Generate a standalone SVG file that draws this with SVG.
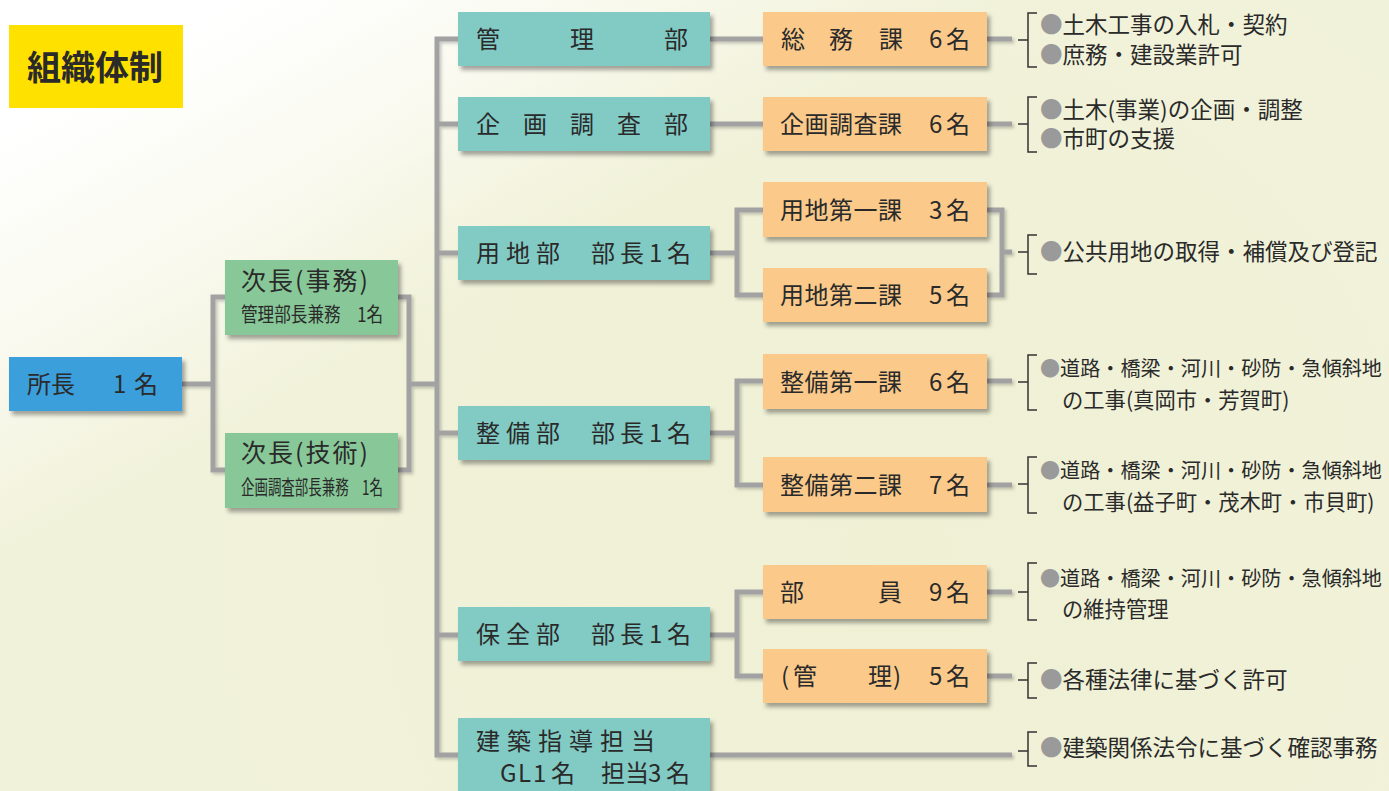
<svg xmlns="http://www.w3.org/2000/svg" width="1389" height="791" viewBox="0 0 1389 791">
<defs>
<linearGradient id="bg" x1="110" y1="70" x2="290" y2="400" gradientUnits="userSpaceOnUse">
<stop offset="0" stop-color="#ffffff"/>
<stop offset="0.55" stop-color="#f9f9ee"/>
<stop offset="1" stop-color="#f1f2da"/>
</linearGradient>
<radialGradient id="bg2" cx="900" cy="560" r="700" gradientUnits="userSpaceOnUse">
<stop offset="0" stop-color="#eef0d2" stop-opacity="0.7"/>
<stop offset="1" stop-color="#eef0d2" stop-opacity="0"/>
</radialGradient>
<filter id="sh" x="-10%" y="-20%" width="125%" height="160%">
<feDropShadow dx="3" dy="4" stdDeviation="2.2" flood-color="#000" flood-opacity="0.35"/>
</filter>
<filter id="lsh" x="-5%" y="-5%" width="110%" height="110%">
<feDropShadow dx="2" dy="2" stdDeviation="1.5" flood-color="#000" flood-opacity="0.2"/>
</filter>
<style>
.t{font-family:'Noto Sans CJK JP','Noto Sans CJK SC',sans-serif;fill:#2a2a2a}
.f24{font-size:24px}
.d{font-size:22.5px}
.dn{font-size:21.3px}
.ds{font-size:20.5px}
.b{fill:#9a9a9a}
.dept{fill:#82cbc5}
.sec{fill:#fbca8b}
.vice{fill:#88c898}
.ln{stroke:#a2a2a2;stroke-width:5;fill:none;stroke-linejoin:miter}
.brk{stroke:#333;stroke-width:1.5;fill:none}
</style>
</defs>
<rect width="1389" height="791" fill="url(#bg)"/>
<rect width="1389" height="791" fill="url(#bg2)"/>

<g id="title">
<rect x="9" y="25" width="174" height="83" fill="#ffe100"/>
<text class="t" x="27" y="80" font-size="34" font-weight="700" fill="#231815">組織体制</text>
</g>

<g id="connectors" filter="url(#lsh)">
<path class="ln" d="M182,384 H213"/>
<path class="ln" d="M225,297 H213 V470 H225"/>
<path class="ln" d="M398,297 H409 V470 H398"/>
<path class="ln" d="M409,384 H437"/>
<path class="ln" d="M458,39 H437 V755 H458"/>
<path class="ln" d="M437,124 H458 M437,253 H458 M437,433 H458 M437,635 H458"/>
<path class="ln" d="M710,39 H763 M710,124 H763"/>
<path class="ln" d="M710,253 H737 M763,210 H737 V295 H763"/>
<path class="ln" d="M710,433 H737 M763,381 H737 V485 H763"/>
<path class="ln" d="M710,635 H737 M763,592 H737 V676 H763"/>
<path class="ln" d="M710,755 H1012"/>
<path class="ln" d="M987,39 H1012 M987,124 H1012"/>
<path class="ln" d="M987,210 H1002 V295 H987 M1002,252 H1012"/>
<path class="ln" d="M987,381 H1012 M987,485 H1012 M987,592 H1012 M987,676 H1012"/>
</g>

<g id="brackets">
<path class="brk" d="M1018,40 H1028 M1037,13 H1028 V67 H1037"/>
<path class="brk" d="M1018,124 H1028 M1037,97 H1028 V152 H1037"/>
<path class="brk" d="M1018,252 H1028 M1037,235 H1028 V274 H1037"/>
<path class="brk" d="M1018,382 H1028 M1037,355 H1028 V410 H1037"/>
<path class="brk" d="M1018,484 H1028 M1037,457 H1028 V513 H1037"/>
<path class="brk" d="M1018,592 H1028 M1037,563 H1028 V620 H1037"/>
<path class="brk" d="M1018,680 H1028 M1037,663 H1028 V698 H1037"/>
<path class="brk" d="M1018,751 H1028 M1037,732 H1028 V766 H1037"/>
</g>

<g id="shocho">
<rect x="9" y="357" width="173" height="54" fill="#3a9fdc" filter="url(#sh)"/>
<text class="t f24" y="393" font-size="25"><tspan x="27">所長</tspan><tspan x="113">1</tspan><tspan x="134">名</tspan></text>
</g>

<g id="jicho-jimu">
<rect class="vice" x="225" y="260" width="173" height="75" filter="url(#sh)"/>
<text class="t" x="241" y="290" font-size="25" letter-spacing="2">次長(事務)</text>
<text class="t" x="241" y="322" font-size="20" textLength="142" lengthAdjust="spacingAndGlyphs">管理部長兼務　1名</text>
</g>

<g id="jicho-gijutsu">
<rect class="vice" x="225" y="433" width="173" height="75" filter="url(#sh)"/>
<text class="t" x="241" y="462" font-size="25" letter-spacing="2">次長(技術)</text>
<text class="t" x="241" y="495" font-size="20" textLength="142" lengthAdjust="spacingAndGlyphs">企画調査部長兼務　1名</text>
</g>

<g id="kanri-bu">
<rect class="dept" x="458" y="12" width="252" height="54" filter="url(#sh)"/>
<text class="t f24" x="476 570 664" y="48">管理部</text>
</g>
<g id="kikaku-bu">
<rect class="dept" x="458" y="97" width="252" height="54" filter="url(#sh)"/>
<text class="t f24" x="476 523 570 617 664" y="133">企画調査部</text>
</g>
<g id="youchi-bu">
<rect class="dept" x="458" y="226" width="252" height="54" filter="url(#sh)"/>
<text class="t f24" x="476 506 536" y="262">用地部</text>
<text class="t f24" x="591 620 649 667" y="262">部長1名</text>
</g>
<g id="seibi-bu">
<rect class="dept" x="458" y="406" width="252" height="54" filter="url(#sh)"/>
<text class="t f24" x="476 506 536" y="442">整備部</text>
<text class="t f24" x="591 620 649 667" y="442">部長1名</text>
</g>
<g id="hozen-bu">
<rect class="dept" x="458" y="607" width="252" height="54" filter="url(#sh)"/>
<text class="t f24" x="476 506 536" y="643">保全部</text>
<text class="t f24" x="591 620 649 667" y="643">部長1名</text>
</g>
<g id="kenchiku">
<rect class="dept" x="458" y="718" width="252" height="80" filter="url(#sh)"/>
<text class="t f24" x="476 507 538 569 600 631" y="750">建築指導担当</text>
<text class="t f24" x="500 518 533 551 576 601 625 648 666" y="782">GL1名　担当3名</text>
</g>

<g id="somu-ka">
<rect class="sec" x="763" y="12" width="224" height="54" filter="url(#sh)"/>
<text class="t f24" x="781 829 879 929 946" y="48">総務課6名</text>
</g>
<g id="kikaku-ka">
<rect class="sec" x="763" y="97" width="224" height="54" filter="url(#sh)"/>
<text class="t f24" x="780 804.5 829 853.5 878 929 946" y="133">企画調査課6名</text>
</g>
<g id="youchi1-ka">
<rect class="sec" x="763" y="182" width="224" height="55" filter="url(#sh)"/>
<text class="t f24" x="780 804.5 829 853.5 878 929 946" y="219">用地第一課3名</text>
</g>
<g id="youchi2-ka">
<rect class="sec" x="763" y="268" width="224" height="54" filter="url(#sh)"/>
<text class="t f24" x="780 804.5 829 853.5 878 929 946" y="304">用地第二課5名</text>
</g>
<g id="seibi1-ka">
<rect class="sec" x="763" y="354" width="224" height="55" filter="url(#sh)"/>
<text class="t f24" x="780 804.5 829 853.5 878 929 946" y="391">整備第一課6名</text>
</g>
<g id="seibi2-ka">
<rect class="sec" x="763" y="457" width="224" height="55" filter="url(#sh)"/>
<text class="t f24" x="780 804.5 829 853.5 878 929 946" y="494">整備第二課7名</text>
</g>
<g id="buin">
<rect class="sec" x="763" y="565" width="224" height="54" filter="url(#sh)"/>
<text class="t f24" x="780 878 929 946" y="601">部員9名</text>
</g>
<g id="kanri-han">
<rect class="sec" x="763" y="649" width="224" height="54" filter="url(#sh)"/>
<text class="t f24" x="781 793 868 893 929 946" y="685">(管理)5名</text>
</g>

<g id="desc-somu">
<text class="t d" x="1040" y="33"><tspan class="b">●</tspan>土木工事の入札・契約</text>
<text class="t d" x="1040" y="63"><tspan class="b">●</tspan>庶務・建設業許可</text>
</g>
<g id="desc-kikaku">
<text class="t d" x="1040" y="118"><tspan class="b">●</tspan>土木(事業)の企画・調整</text>
<text class="t d" x="1040" y="147"><tspan class="b">●</tspan>市町の支援</text>
</g>
<g id="desc-youchi">
<text class="t d" x="1040" y="260"><tspan class="b">●</tspan>公共用地の取得・補償及び登記</text>
</g>
<g id="desc-seibi1">
<text class="t ds" x="1040" y="376" textLength="342" lengthAdjust="spacingAndGlyphs"><tspan class="b">●</tspan>道路・橋梁・河川・砂防・急傾斜地</text>
<text class="t dn" x="1062" y="408">の工事(真岡市・芳賀町)</text>
</g>
<g id="desc-seibi2">
<text class="t ds" x="1040" y="478" textLength="342" lengthAdjust="spacingAndGlyphs"><tspan class="b">●</tspan>道路・橋梁・河川・砂防・急傾斜地</text>
<text class="t dn" x="1062" y="510">の工事(益子町・茂木町・市貝町)</text>
</g>
<g id="desc-buin">
<text class="t ds" x="1040" y="586" textLength="342" lengthAdjust="spacingAndGlyphs"><tspan class="b">●</tspan>道路・橋梁・河川・砂防・急傾斜地</text>
<text class="t dn" x="1062" y="617">の維持管理</text>
</g>
<g id="desc-kanri">
<text class="t d" x="1040" y="688"><tspan class="b">●</tspan>各種法律に基づく許可</text>
</g>
<g id="desc-kenchiku">
<text class="t d" x="1040" y="756"><tspan class="b">●</tspan>建築関係法令に基づく確認事務</text>
</g>
</svg>
